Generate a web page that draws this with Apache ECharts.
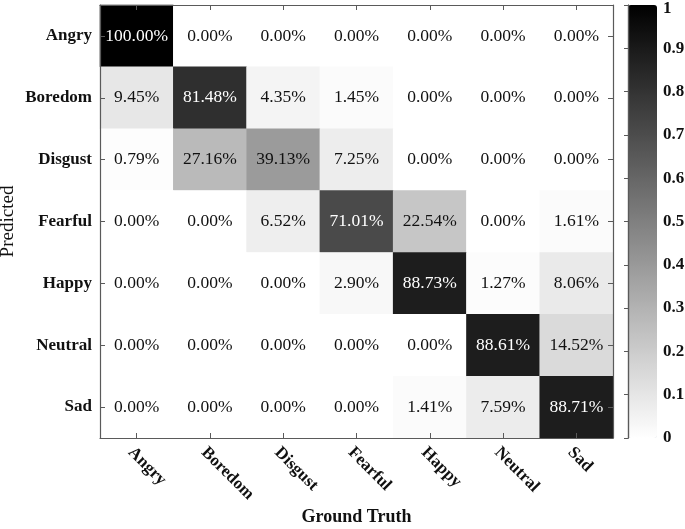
<!DOCTYPE html>
<html>
<head>
<meta charset="utf-8">
<script src="https://cdn.jsdelivr.net/npm/echarts@6/dist/echarts.min.js"></script>
<style>
  html, body { margin: 0; padding: 0; background: #fff; }
  #chart { width: 685px; height: 529px; }
</style>
</head>
<body>
<div id="chart"></div>
<script>
const classes = ['Angry', 'Boredom', 'Disgust', 'Fearful', 'Happy', 'Neutral', 'Sad']

// rows = predicted, columns = ground truth (percent)
const angryRow   = [100.00, 0.00, 0.00, 0.00, 0.00, 0.00, 0.00]
const boredomRow = [9.45, 81.48, 4.35, 1.45, 0.00, 0.00, 0.00]
const disgustRow = [0.79, 27.16, 39.13, 7.25, 0.00, 0.00, 0.00]
const fearfulRow = [0.00, 0.00, 6.52, 71.01, 22.54, 0.00, 1.61]
const happyRow   = [0.00, 0.00, 0.00, 2.90, 88.73, 1.27, 8.06]
const neutralRow = [0.00, 0.00, 0.00, 0.00, 0.00, 88.61, 14.52]
const sadRow     = [0.00, 0.00, 0.00, 0.00, 1.41, 7.59, 88.71]
const rows = [angryRow, boredomRow, disgustRow, fearfulRow, happyRow, neutralRow, sadRow]

const colorbarTicks = [0, 0.1, 0.2, 0.3, 0.4, 0.5, 0.6, 0.7, 0.8, 0.9, 1]

const serif = '"Liberation Serif", "Times New Roman", serif'
const frame = '#5a5a5a'

const cells = []
rows.forEach((row, y) => {
  row.forEach((v, x) => {
    cells.push({
      value: [x, y, v / 100],
      label: { color: v > 50 ? '#ffffff' : '#111111' }
    })
  })
})

const chart = echarts.init(document.getElementById('chart'))

const catAxis = (extra) => Object.assign({
  type: 'category',
  data: classes,
  z: 3,
  axisLine: { show: true, lineStyle: { color: frame, width: 1.2 } },
  axisTick: { show: true, inside: true, alignWithLabel: true, length: 5, lineStyle: { color: frame } },
  splitArea: { show: false },
  splitLine: { show: false }
}, extra)

chart.setOption({
  backgroundColor: '#ffffff',
  animation: false,
  grid: [
    { left: 100, top: 5, width: 513, height: 433, outerBoundsMode: 'none', containLabel: false },
    { left: 628, top: 5, width: 29, height: 433, outerBoundsMode: 'none', containLabel: false }
  ],
  xAxis: [
    catAxis({
      gridIndex: 0, position: 'bottom',
      name: 'Ground Truth', nameLocation: 'middle', nameGap: 70, nameMoveOverlap: false,
      nameTextStyle: { fontFamily: serif, fontWeight: 'bold', fontSize: 18, color: '#111' },
      axisLabel: {
        rotate: -45, margin: 6, verticalAlign: 'top',
        fontFamily: serif, fontWeight: 'bold', fontSize: 17, color: '#111'
      }
    }),
    catAxis({ gridIndex: 0, position: 'top', axisLabel: { show: false } }),
    { type: 'value', gridIndex: 1, show: false, min: 0, max: 1 }
  ],
  yAxis: [
    catAxis({
      gridIndex: 0, position: 'left', inverse: true,
      name: 'Predicted', nameLocation: 'middle', nameGap: 82, nameRotate: 90, nameMoveOverlap: false,
      nameTextStyle: { fontFamily: serif, fontSize: 19, color: '#111' },
      axisLabel: { margin: 8, fontFamily: serif, fontWeight: 'bold', fontSize: 17, color: '#111' }
    }),
    catAxis({ gridIndex: 0, position: 'right', inverse: true, axisLabel: { show: false } }),
    {
      type: 'value', gridIndex: 1, position: 'right', min: 0, max: 1, interval: 0.1, z: 6,
      axisLine: { show: true, lineStyle: { color: frame, width: 1.2 } },
      axisTick: { show: true, inside: true, length: 4, lineStyle: { color: frame } },
      splitLine: { show: false },
      axisLabel: {
        margin: 6, fontFamily: serif, fontWeight: 'bold', fontSize: 17, color: '#111',
        formatter: (v) => {
          const t = Math.round(v * 10) / 10
          if (!colorbarTicks.includes(t)) return ''
          return t === 1 ? '{top|1}' : String(t)
        },
        rich: {
          top: { fontFamily: serif, fontWeight: 'bold', fontSize: 17, color: '#111', padding: [8, 0, 0, 0] }
        }
      }
    },
    {
      type: 'value', gridIndex: 1, position: 'left', min: 0, max: 1, z: 6,
      axisLine: { show: true, lineStyle: { color: frame, width: 1.2 } },
      axisTick: { show: false }, axisLabel: { show: false }, splitLine: { show: false }
    }
  ],
  visualMap: {
    type: 'continuous',
    min: 0, max: 1,
    seriesIndex: 0,
    calculable: false,
    orient: 'vertical',
    left: 628, top: 5,
    padding: 0,
    itemWidth: 29, itemHeight: 433,
    text: null,
    inRange: { color: ['#ffffff', '#000000'] }
  },
  series: [{
    type: 'heatmap',
    xAxisIndex: 0,
    yAxisIndex: 0,
    data: cells,
    label: {
      show: true,
      fontFamily: serif,
      fontSize: 17.5,
      formatter: (p) => rows[p.value[1]][p.value[0]].toFixed(2) + '%'
    },
    itemStyle: { borderWidth: 0 },
    emphasis: { disabled: true }
  }]
})
</script>
</body>
</html>
